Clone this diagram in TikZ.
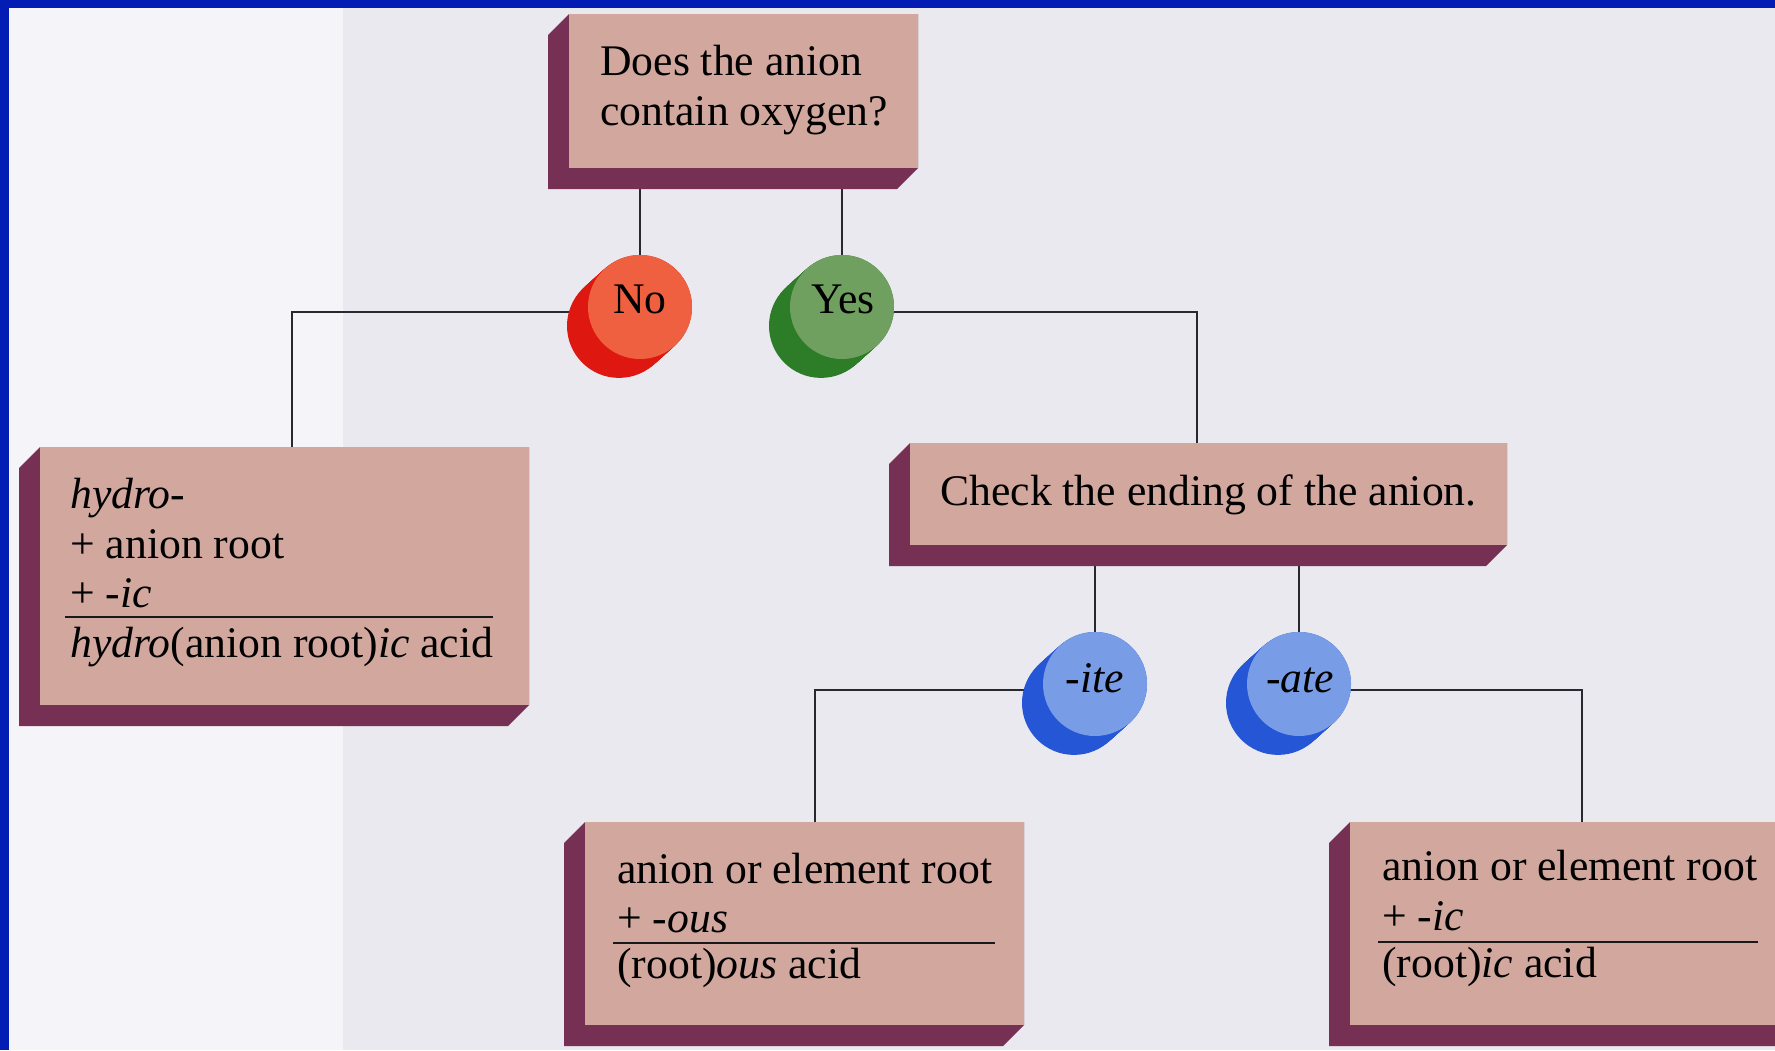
\documentclass[tikz,border=0pt]{standalone}
\usepackage{fontspec}
\setmainfont{Liberation Serif}
\definecolor{bgC}{RGB}{233,233,239}
\definecolor{bgL}{RGB}{245,245,249}
\definecolor{frameC}{RGB}{2,28,180}
\definecolor{slabC}{RGB}{210,168,158}
\definecolor{slabD}{RGB}{118,48,84}
\definecolor{lineC}{RGB}{40,40,50}
\definecolor{noF}{RGB}{238,96,64}
\definecolor{noD}{RGB}{222,24,16}
\definecolor{yesF}{RGB}{112,160,96}
\definecolor{yesD}{RGB}{44,124,40}
\definecolor{blF}{RGB}{120,156,230}
\definecolor{blD}{RGB}{36,86,214}
\tikzset{
  slabface/.style={fill=slabC, draw=none, inner sep=0pt, outer sep=0pt, rectangle},
  slabside/.style={fill=slabD},
  txt/.style={anchor=base west, inner sep=0pt, font=\fontsize{43.7}{50}\selectfont},
  ctxt/.style={anchor=base, inner sep=0pt, font=\fontsize{43.7}{50}\selectfont},
  conn/.style={draw=lineC, line width=2.2pt},
  boxrule/.style={draw=black!90, line width=2.6pt},
  discface/.style={circle, inner sep=0pt, outer sep=0pt, minimum size=104pt},
}
% name, x1, y1, x2, y2
\newcommand{\myslab}[5]{%
  \fill[slabside] (#2,#3) -- (#2-21,#3+21) -- (#2-21,#5+21) -- (#4-21,#5+21) -- (#4,#5) -- (#4,#3) -- cycle;
  \node[slabface, minimum width=#4-#2, minimum height=#5-#3, anchor=north west] (#1) at (#2,#3) {};
}
% name, x, y, face colour, dark colour
\newcommand{\mydisc}[5]{%
  \foreach \k in {0,1,...,21}{\fill[#5] (#2-\k,#3+0.9*\k) circle[radius=52];}
  \node[discface, fill=#4] (#1) at (#2,#3) {};
}
\begin{document}
\begin{tikzpicture}[x=1pt,y=-1pt]
\useasboundingbox (0,0) rectangle (1775,1050);
\clip (0,0) rectangle (1775,1050);
% background
\fill[bgC] (0,0) rectangle (1775,1050);
\fill[bgL] (9,8) rectangle (343,1050);
\fill[frameC] (0,0) rectangle (1775,8);
\fill[frameC] (0,0) rectangle (9,1050);

% junction coordinates
\coordinate (lj) at (292,447);
\coordinate (cj) at (1197,443);
\coordinate (blj) at (815,822);
\coordinate (brj) at (1582,822);

% disc positions (needed for connectors)
\path (640,307) coordinate (noP) (842,307) coordinate (yesP) (1095,684) coordinate (iteP) (1299,684) coordinate (ateP);

% connectors (drawn first; boxes and discs cover their ends)
\draw[conn] (noP |- 0,160) -- (noP);
\draw[conn] (yesP |- 0,160) -- (yesP);
\draw[conn] ([yshift=-5pt]noP) -| (lj);
\draw[conn] ([yshift=-5pt]yesP) -| (cj);
\draw[conn] (iteP |- 0,540) -- (iteP);
\draw[conn] (ateP |- 0,540) -- (ateP);
\draw[conn] ([yshift=-6pt]iteP) -| (blj);
\draw[conn] ([yshift=-6pt]ateP) -| (brj);

% slabs
\myslab{top}{569}{14}{918}{168}
\myslab{lbox}{40}{447}{529}{705}
\myslab{check}{910}{443}{1507}{545}
\myslab{blbox}{585}{822}{1024}{1025}
\myslab{brbox}{1350}{822}{1800}{1025}

% discs
\mydisc{no}{640}{307}{noF}{noD}
\mydisc{yes}{842}{307}{yesF}{yesD}
\mydisc{ite}{1095}{684}{blF}{blD}
\mydisc{ate}{1299}{684}{blF}{blD}

% disc labels
\node[ctxt] (noT) at (640,313) {No};
\node[ctxt] (yesT) at (843,313) {Yes};
\node[ctxt] (iteT) at (1095,692) {\textit{-ite}};
\node[ctxt] (ateT) at (1300,692) {\textit{-ate}};

% top box text
\node[txt] (q1) at (600,75) {Does the anion};
\node[txt] (q2) at (600,125) {contain oxygen?};

% left box text
\node[txt] (l1) at (70,508) {\textit{hydro-}};
\node[txt] (l2) at (70,558) {+ anion root};
\node[txt] (l3) at (70,607) {+ \textit{-ic}};
\coordinate (lr1) at (65,617);
\coordinate (lr2) at (493,617);
\draw[boxrule] (lr1) -- (lr2);
\node[txt] (l4) at (70,657) {\textit{hydro}(anion root)\textit{ic} acid};

% check box text
\node[txt] (c1) at (940,505) {Check the ending of the anion.};

% bottom-left box text
\node[txt] (b1) at (617,883) {anion or element root};
\node[txt] (b2) at (617,932) {+ \textit{-ous}};
\coordinate (br1) at (613,943);
\coordinate (br2) at (995,943);
\draw[boxrule] (br1) -- (br2);
\node[txt] (b3) at (617,978) {(root)\textit{ous} acid};

% bottom-right box text
\node[txt] (r1) at (1382,880) {anion or element root};
\node[txt] (r2) at (1382,930) {+ \textit{-ic}};
\coordinate (rr1) at (1378,942);
\coordinate (rr2) at (1758,942);
\draw[boxrule] (rr1) -- (rr2);
\node[txt] (r3) at (1382,977) {(root)\textit{ic} acid};
\end{tikzpicture}
\end{document}
